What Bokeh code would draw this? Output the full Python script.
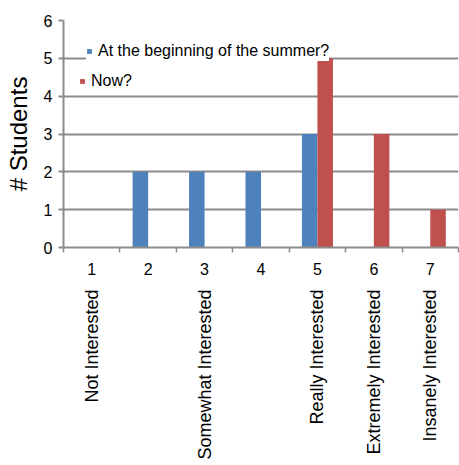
import math
from bokeh.plotting import figure
from bokeh.models import ColumnDataSource, Range1d, FixedTicker, LinearAxis, Legend, LegendItem
from bokeh.transform import dodge
from bokeh.embed import file_html
from bokeh.resources import INLINE

# ---- data ----
levels = [1, 2, 3, 4, 5, 6, 7]
level_names = ["Not Interested", "", "Somewhat Interested", "", "Really Interested",
               "Extremely Interested", "Insanely Interested"]
beginning = [0, 2, 2, 2, 3, 0, 0]
now = [0, 0, 0, 0, 5, 3, 1]
series_names = ["At the beginning of the summer?", "Now?"]
y_ticks = [0, 1, 2, 3, 4, 5, 6]
y_label = "# Students"

FONT = "Liberation Sans"
GRAY = "#8c8c8c"
BLUE = "#4F81BD"
RED = "#C0504D"

src = ColumnDataSource(dict(level=levels, beginning=beginning, now=now))

p = figure(width=459, height=465, output_backend="svg", toolbar_location=None,
           x_range=Range1d(0.5, 7.5), y_range=Range1d(0, 6),
           min_border_left=63, min_border_right=1, min_border_top=20,
           min_border_bottom=218, y_axis_label=y_label)
p.outline_line_color = None
p.background_fill_color = "white"
p.border_fill_color = "white"

b1 = p.vbar(x=dodge("level", -0.1375, range=p.x_range), top="beginning", width=0.275,
            source=src, fill_color=BLUE, line_color=None)
b2 = p.vbar(x=dodge("level", 0.1375, range=p.x_range), top="now", width=0.275,
            source=src, fill_color=RED, line_color=None)

# grids
for g in p.grid:
    if g.dimension == 0:
        g.visible = False
    else:
        g.ticker = FixedTicker(ticks=y_ticks)
        g.grid_line_color = GRAY
        g.grid_line_width = 2

# y axis
ya = p.yaxis[0]
ya.ticker = FixedTicker(ticks=y_ticks)
ya.major_label_text_font = FONT
ya.major_label_text_font_size = "16px"
ya.major_label_text_color = "black"
ya.axis_label_text_font = FONT
ya.axis_label_text_font_size = "24px"
ya.axis_label_text_font_style = "normal"
ya.axis_label_text_color = "black"
ya.axis_line_color = GRAY
ya.axis_line_width = 2
ya.major_tick_line_color = GRAY
ya.major_tick_line_width = 2
ya.major_tick_out = 5
ya.major_tick_in = 0
ya.minor_tick_line_color = None
ya.major_label_standoff = 6
ya.axis_label_standoff = 9

# x axis (numbers)
xa = p.xaxis[0]
xa.ticker = FixedTicker(ticks=levels, minor_ticks=[lv - 0.5 for lv in levels] + [levels[-1] + 0.5])
xa.major_tick_line_color = None
xa.major_tick_out = 5
xa.major_tick_in = 0
xa.minor_tick_line_color = GRAY
xa.minor_tick_line_width = 1.5
xa.minor_tick_out = 5
xa.minor_tick_in = 0
xa.axis_line_color = GRAY
xa.axis_line_width = 2
xa.major_label_text_font = FONT
xa.major_label_text_font_size = "16px"
xa.major_label_text_color = "black"
xa.major_label_standoff = 10

# x axis (rotated names)
xa2 = LinearAxis(ticker=FixedTicker(ticks=levels),
                 major_label_overrides={lv: nm for lv, nm in zip(levels, level_names)},
                 major_label_orientation=math.pi / 2,
                 axis_line_color=None, major_tick_line_color=None, minor_tick_line_color=None,
                 major_tick_out=0, major_tick_in=0, major_label_standoff=12,
                 major_label_text_font=FONT, major_label_text_font_size="18px",
                 major_label_text_color="black")
p.add_layout(xa2, "below")

common = dict(margin=0, glyph_width=6, glyph_height=6, label_height=20, label_standoff=6,
              label_text_font=FONT, label_text_font_size="16px", label_text_color="black",
              border_line_color=None, background_fill_color="white", background_fill_alpha=1.0)
legend1 = Legend(items=[LegendItem(label=series_names[0], renderers=[b1])],
                 location=(23, 186), padding=0, **common)
legend2 = Legend(items=[LegendItem(label=series_names[1], renderers=[b2])],
                 location=(16, 156), padding=7, label_width=132, **common)
p.add_layout(legend1, "center")
p.add_layout(legend2, "center")

open("out.html", "w").write(file_html(p, INLINE))
